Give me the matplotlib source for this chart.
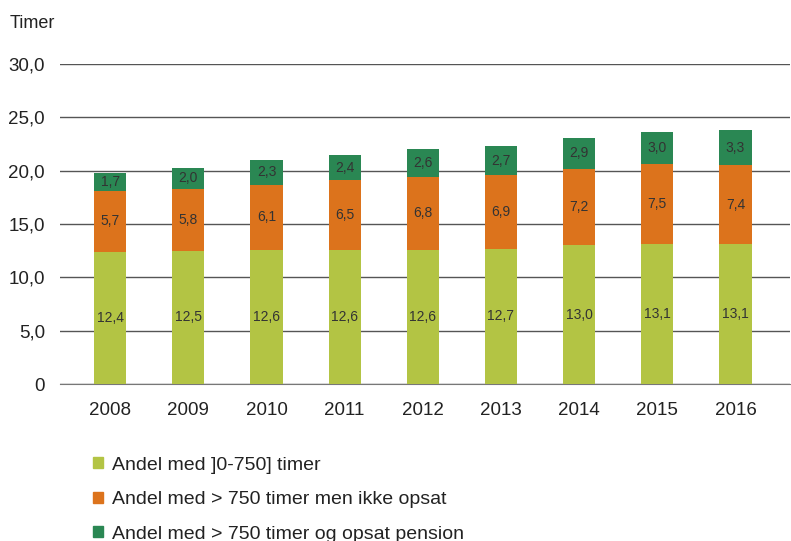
import matplotlib.pyplot as plt
from matplotlib.patches import Patch
import numpy as np

plt.rcParams['font.family'] = ['Liberation Sans', 'DejaVu Sans']

years = ['2008', '2009', '2010', '2011', '2012', '2013', '2014', '2015', '2016']
low_hours = [12.4, 12.5, 12.6, 12.6, 12.6, 12.7, 13.0, 13.1, 13.1]
high_not_deferred = [5.7, 5.8, 6.1, 6.5, 6.8, 6.9, 7.2, 7.5, 7.4]
high_deferred = [1.7, 2.0, 2.3, 2.4, 2.6, 2.7, 2.9, 3.0, 3.3]

series_names = ['Andel med ]0-750] timer',
                'Andel med > 750 timer men ikke opsat',
                'Andel med > 750 timer og opsat pension']
colors = ['#b3c444', '#dc731c', '#2a8753']

fig = plt.figure(figsize=(7.91, 5.41), dpi=100)
ax = fig.add_axes([0.076, 0.29, 0.923, 0.5915])

x = np.arange(len(years))
bottom = np.zeros(len(years))
for vals, col in zip([low_hours, high_not_deferred, high_deferred], colors):
    vals = np.array(vals)
    ax.bar(x, vals, 0.41, bottom=bottom, color=col, zorder=3)
    for xi, b, v in zip(x, bottom, vals):
        ax.text(xi, b + v / 2, ('%.1f' % v).replace('.', ','), ha='center', va='center',
                fontsize=10, color='#333333', zorder=4)
    bottom += vals

ax.set_ylim(0, 30)
ax.set_xlim(-0.64, 8.7)
ax.set_yticks([0, 5, 10, 15, 20, 25, 30])
ax.set_yticklabels(['0', '5,0', '10,0', '15,0', '20,0', '25,0', '30,0'])
ax.set_xticks(x)
ax.set_xticklabels(years)
ax.tick_params(axis='y', length=0, pad=11, labelsize=13.5, labelcolor='#222222')
ax.tick_params(axis='x', length=0, pad=13, labelsize=13.5, labelcolor='#222222')
ax.grid(axis='y', color='#555555', linewidth=1, zorder=0)
for s in ['top', 'right', 'left']:
    ax.spines[s].set_visible(False)
ax.spines['bottom'].set_color('#777777')

fig.text(10 / 791, 1 - 23 / 541, 'Timer', fontsize=13, color='#222222', va='center')

handles = [Patch(color=c) for c in colors]
fig.legend(handles, series_names, loc='upper left', bbox_to_anchor=(0.118, 0.156),
           frameon=False, fontsize=14, handlelength=0.5, handleheight=0.5,
           handletextpad=0.45, labelspacing=0.9, borderaxespad=0, borderpad=0,
           labelcolor='#222222')

fig.savefig('out.png', dpi=100)
